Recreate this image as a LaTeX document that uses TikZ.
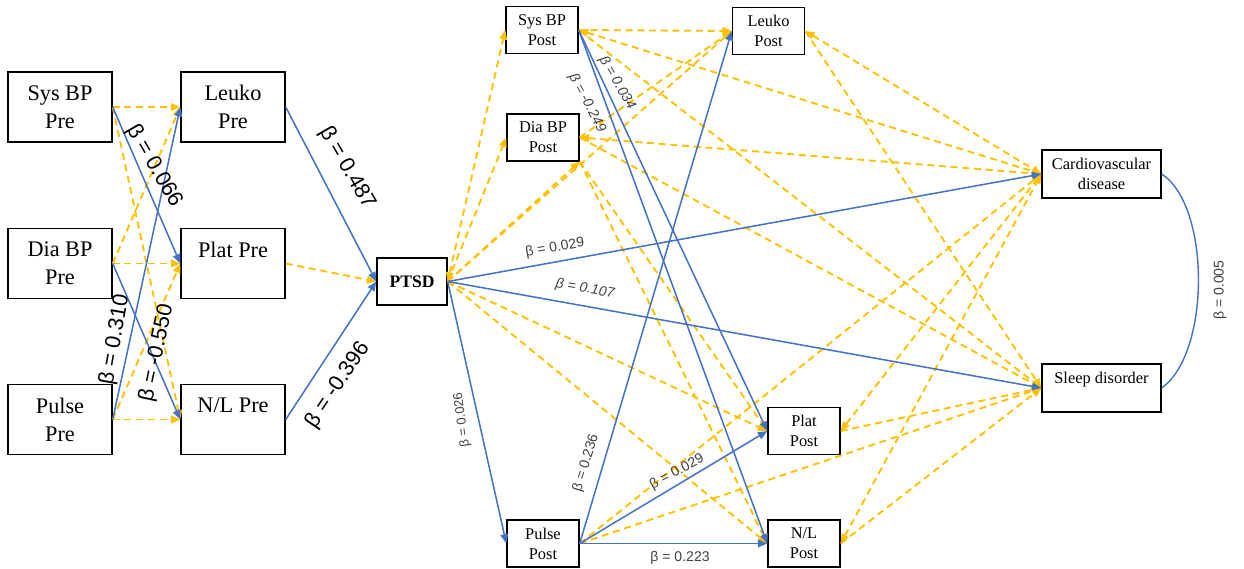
\documentclass[tikz,border=0pt]{standalone}
\usepackage{fontspec}
\setmainfont{Liberation Serif}
\newfontfamily\betafont{Liberation Sans}
\usetikzlibrary{arrows.meta}
\definecolor{pathblue}{RGB}{68,114,196}
\definecolor{pathgold}{RGB}{255,192,0}
\tikzset{
  var/.style={draw, line width=1.2pt, align=center, inner sep=1pt},
  prevar/.style={var, minimum width=3.12cm, minimum height=2.1cm, font=\fontsize{19}{24}\selectfont},
  postvar/.style={var, minimum width=2.16cm, minimum height=1.4cm, font=\fontsize{14}{17}\selectfont},
  outvar/.style={var, minimum width=3.57cm, minimum height=1.44cm, font=\fontsize{14}{17}\selectfont},
  tip/.tip={Triangle[length=8pt, width=6.5pt]},
  sig/.style={pathblue, line width=1.3pt, -tip},
  ns/.style={pathgold, line width=1.6pt, dash pattern=on 6pt off 4pt, -tip},
  nsboth/.style={ns, tip-tip},
  coef/.style={font=\betafont\fontsize{18.5}{20}\selectfont, inner sep=0pt},
  coefsm/.style={font=\betafont\fontsize{12}{13}\selectfont, inner sep=0pt, text=black!75}
}
\begin{document}
\begin{tikzpicture}[x=0.03cm, y=-0.03cm]
  \useasboundingbox (0,0) rectangle (1244,569);
  \node[prevar] (sysPre) at (60,107) {Sys BP\\Pre};
  \node[prevar] (diaPre) at (60,263.5) {Dia BP\\Pre};
  \node[prevar] (pulsePre) at (60,419.5) {Pulse\\Pre};
  \node[prevar] (leukoPre) at (233,107) {Leuko\\Pre};
  \node[prevar] (platPre) at (233,263.5) {Plat Pre\\~};
  \node[prevar] (nlPre) at (233,419.5) {N/L Pre\\~};
  \node[var, minimum width=2.1cm, minimum height=1.41cm, font=\fontsize{15}{17}\selectfont\bfseries] (ptsd) at (412,281.5) {PTSD};
  \node[postvar] (sysPost) at (542,30) {Sys BP\\Post};
  \node[postvar] (diaPost) at (543,137.5) {Dia BP\\Post};
  \node[postvar] (leukoPost) at (768.5,31) {Leuko\\Post};
  \node[postvar] (pulsePost) at (543,543.5) {Pulse\\Post};
  \node[postvar] (platPost) at (804,431) {Plat\\Post};
  \node[postvar] (nlPost) at (804,543.5) {N/L\\Post};
  \node[outvar] (cvd) at (1101.5,174) {Cardiovascular\\disease};
  \node[outvar] (sleep) at (1101.5,388) {Sleep disorder\\~};

  \foreach \s/\t in {sysPre/leukoPre, sysPre/nlPre, diaPre/leukoPre, diaPre/platPre,
      pulsePre/platPre, pulsePre/nlPre, platPre/ptsd, ptsd/diaPost, ptsd/leukoPost,
      ptsd/platPost, ptsd/nlPost, sysPost/leukoPost, diaPost/leukoPost}
    \draw[ns] (\s.east) -- (\t.west);
  \draw[nsboth] (ptsd.east) -- (sysPost.west);
  \draw[ns] (ptsd.east) -- (diaPost.south east);
  \foreach \t in {platPost, nlPost}
    \draw[ns] (diaPost.south east) -- (\t.west);
  \foreach \s in {sysPost, diaPost, leukoPost, platPost, nlPost} {
    \draw[nsboth] (\s.east) -- (cvd.west);
    \draw[ns] (\s.east) -- (sleep.west);
  }
  \draw[ns] (pulsePost.east) -- (cvd.west);
  \draw[ns] (pulsePost.east) -- (sleep.west);
  \foreach \s/\t in {sysPre/platPre, diaPre/nlPre, pulsePre/leukoPre, leukoPre/ptsd,
      nlPre/ptsd, ptsd/pulsePost, ptsd/cvd, ptsd/sleep, sysPost/platPost, sysPost/nlPost,
      pulsePost/leukoPost, pulsePost/platPost, pulsePost/nlPost}
    \draw[sig] (\s.east) -- (\t.west);
  \draw[pathblue, line width=1.2pt] (cvd.east) .. controls +(49,32) and +(49,-35) .. (sleep.east);

  \node[coef, rotate=-60] (b066) at (154,166) {β = 0.066};
  \node[coef, rotate=80] (b310) at (115,340) {β = 0.310};
  \node[coef, rotate=78] (b550) at (157,353) {β = -0.550};
  \node[coef, rotate=-60] (b487) at (347,168) {β = 0.487};
  \node[coef, rotate=56] (b396) at (338,385) {β = -0.396};
  \node[coefsm, font=\betafont\fontsize{11}{12}\selectfont, rotate=98] (b026) at (462,420) {β = 0.026};
  \node[coefsm, rotate=10] (b029a) at (555,248) {β = 0.029};
  \node[coefsm, rotate=-10] (b107) at (585,289) {\itshape β = 0.107};
  \node[coefsm, rotate=-60] (b034) at (617,83) {\itshape β = 0.034};
  \node[coefsm, rotate=-62] (b249) at (587,103) {\itshape β = -0.249};
  \node[coefsm, rotate=73] (b236) at (586,463) {β = 0.236};
  \node[coefsm, rotate=28] (b029b) at (677,472) {β = 0.029};
  \node[coefsm] (b223) at (680,558) {β = 0.223};
  \node[coefsm, rotate=90] (b005) at (1220,290) {β = 0.005};
\end{tikzpicture}
\end{document}
